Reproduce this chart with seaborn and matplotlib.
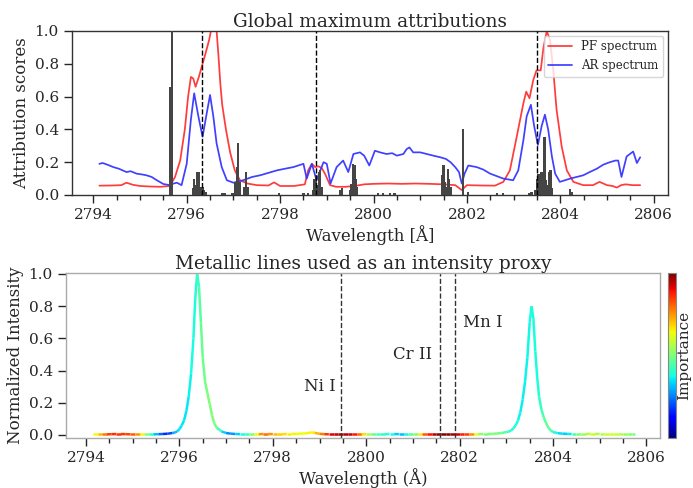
import numpy as np
import pandas as pd
import matplotlib
matplotlib.use("Agg")
import matplotlib.pyplot as plt
import seaborn as sns
from matplotlib.collections import LineCollection
from matplotlib.ticker import MultipleLocator

# ---------------- data ----------------
pf_wl = [2794.13, 2794.4, 2794.6, 2794.71, 2794.85, 2795.0, 2795.2, 2795.43, 2795.64, 2795.75,
         2795.86, 2795.96, 2796.03, 2796.09, 2796.14, 2796.19, 2796.26, 2796.32, 2796.4, 2796.48,
         2796.56, 2796.62, 2796.68, 2796.72, 2796.76, 2796.84, 2796.93, 2797.03, 2797.14, 2797.3,
         2797.5, 2797.75, 2797.87, 2798.0, 2798.3, 2798.53, 2798.6, 2798.68, 2798.75, 2798.82,
         2798.89, 2798.96, 2799.07, 2799.2, 2799.4, 2799.6, 2799.8, 2800.0, 2800.3, 2800.6,
         2800.9, 2801.2, 2801.5, 2801.75, 2801.89, 2802.0, 2802.3, 2802.6, 2802.78, 2802.92,
         2803.07, 2803.21, 2803.27, 2803.34, 2803.42, 2803.49, 2803.58, 2803.64, 2803.71, 2803.78,
         2803.85, 2803.92, 2804.03, 2804.14, 2804.28, 2804.49, 2804.7, 2804.84, 2805.0, 2805.12,
         2805.21, 2805.3, 2805.4, 2805.55, 2805.71]
pf_val = [0.057, 0.058, 0.06, 0.075, 0.062, 0.055, 0.052, 0.05, 0.055, 0.11,
          0.21, 0.40, 0.60, 0.72, 0.71, 0.66, 0.72, 0.78, 0.86, 0.945,
          1.06, 1.08, 0.85, 0.68, 0.55, 0.40, 0.26, 0.15, 0.09, 0.07,
          0.06, 0.058, 0.077, 0.055, 0.055, 0.065, 0.15, 0.19, 0.17, 0.175,
          0.165, 0.13, 0.06, 0.05, 0.05, 0.055, 0.065, 0.068, 0.07, 0.068,
          0.07, 0.068, 0.065, 0.06, 0.03, 0.06, 0.058, 0.057, 0.08, 0.15,
          0.36, 0.56, 0.63, 0.59, 0.70, 0.76, 0.76, 0.90, 1.0, 0.945,
          0.76, 0.52, 0.295, 0.15, 0.08, 0.06, 0.06, 0.08, 0.06, 0.055,
          0.045, 0.06, 0.065, 0.06, 0.06]

ar_wl = [2794.13, 2794.2, 2794.3, 2794.43, 2794.55, 2794.71, 2794.8, 2794.93, 2795.05, 2795.14,
         2795.25, 2795.36, 2795.5, 2795.64, 2795.72, 2795.79, 2795.89, 2796.0, 2796.09, 2796.16,
         2796.25, 2796.34, 2796.43, 2796.5, 2796.57, 2796.64, 2796.75, 2796.86, 2797.0, 2797.21,
         2797.4, 2797.57, 2797.75, 2797.93, 2798.1, 2798.28, 2798.5, 2798.57, 2798.68, 2798.78,
         2798.93, 2799.0, 2799.08, 2799.21, 2799.35, 2799.46, 2799.57, 2799.71, 2799.8, 2799.91,
         2800.03, 2800.14, 2800.28, 2800.4, 2800.5, 2800.64, 2800.71, 2800.77, 2800.85, 2801.0,
         2801.14, 2801.28, 2801.43, 2801.55, 2801.65, 2801.75, 2801.83, 2801.89, 2801.95, 2802.03,
         2802.21, 2802.35, 2802.5, 2802.64, 2802.78, 2802.99, 2803.1, 2803.21, 2803.28, 2803.37,
         2803.44, 2803.52, 2803.6, 2803.67, 2803.74, 2803.82, 2803.89, 2803.99, 2804.1, 2804.21,
         2804.35, 2804.49, 2804.63, 2804.78, 2804.92, 2805.06, 2805.18, 2805.24, 2805.31, 2805.42,
         2805.56, 2805.64, 2805.71]
ar_val = [0.19, 0.195, 0.185, 0.17, 0.16, 0.14, 0.145, 0.13, 0.125, 0.12,
          0.11, 0.09, 0.067, 0.06, 0.07, 0.075, 0.06, 0.19, 0.46, 0.62,
          0.48, 0.355, 0.50, 0.61, 0.48, 0.315, 0.17, 0.09, 0.075, 0.09,
          0.11, 0.12, 0.135, 0.15, 0.16, 0.17, 0.19, 0.10, 0.19, 0.09,
          0.20, 0.19, 0.07, 0.17, 0.21, 0.14, 0.25, 0.26, 0.24, 0.18,
          0.27, 0.26, 0.25, 0.255, 0.24, 0.25, 0.28, 0.29, 0.26, 0.26,
          0.25, 0.24, 0.23, 0.22, 0.20, 0.17, 0.14, 0.07, 0.13, 0.18,
          0.17, 0.155, 0.13, 0.115, 0.10, 0.09, 0.15, 0.335, 0.48, 0.55,
          0.42, 0.305, 0.42, 0.49, 0.40, 0.235, 0.13, 0.08, 0.09, 0.10,
          0.11, 0.12, 0.14, 0.16, 0.185, 0.20, 0.21, 0.21, 0.11, 0.235,
          0.265, 0.195, 0.23]

attr_wl = [2796.75, 2796.81, 2796.98, 2797.98, 2798.5, 2798.6, 2799.28, 2799.32,
           2800.1, 2800.2, 2800.35, 2800.45, 2802.64, 2802.78, 2803.34, 2803.38, 2804.21, 2804.25,
           2795.64, 2795.69,
           2796.13, 2796.16, 2796.19, 2796.22, 2796.25, 2796.28, 2796.31, 2796.34, 2796.37, 2796.40,
           2797.04, 2797.07, 2797.10, 2797.13, 2797.24, 2797.27, 2797.30,
           2798.71, 2798.74, 2798.77, 2798.80, 2798.83, 2798.86, 2798.89,
           2799.50, 2799.53, 2799.56, 2799.59, 2799.62, 2799.65,
           2801.47, 2801.50, 2801.53, 2801.56, 2801.59, 2801.62, 2801.65, 2801.91, 2802.03,
           2803.47, 2803.50, 2803.53, 2803.56, 2803.60, 2803.63, 2803.66, 2803.69, 2803.72,
           2803.76, 2803.79, 2803.82]
attr_val = [0.01, 0.01, 0.01, 0.01, 0.01, 0.01, 0.03, 0.04,
            0.01, 0.01, 0.01, 0.01, 0.01, 0.01, 0.01, 0.02, 0.035, 0.02,
            0.66, 1.0,
            0.04, 0.10, 0.06, 0.14, 0.14, 0.05, 0.05, 0.05, 0.03, 0.02,
            0.08, 0.17, 0.32, 0.08, 0.05, 0.14, 0.05,
            0.03, 0.10, 0.12, 0.06, 0.14, 0.15, 0.05,
            0.03, 0.07, 0.19, 0.18, 0.10, 0.05,
            0.12, 0.18, 0.08, 0.05, 0.16, 0.10, 0.05, 0.40, 0.02,
            0.03, 0.10, 0.13, 0.09, 0.14, 0.10, 0.355, 0.09, 0.06,
            0.14, 0.15, 0.04]

attr_lines = [2796.33, 2798.77, 2803.51]

int_wl = [2794.15, 2794.25, 2794.35, 2794.45, 2794.55, 2794.65, 2794.75, 2794.85, 2794.95, 2795.05,
          2795.15, 2795.25, 2795.35, 2795.45, 2795.55, 2795.65, 2795.75, 2795.85,
          2795.9, 2795.95, 2796.0, 2796.05, 2796.1, 2796.15, 2796.2, 2796.25, 2796.3, 2796.34,
          2796.38, 2796.42, 2796.46, 2796.5, 2796.55, 2796.6, 2796.65, 2796.7, 2796.75, 2796.8,
          2796.9, 2797.0, 2797.1, 2797.2, 2797.3, 2797.4, 2797.5, 2797.6, 2797.7, 2797.8,
          2797.9, 2798.0, 2798.1, 2798.2, 2798.3, 2798.4, 2798.5, 2798.6, 2798.7, 2798.8,
          2798.85, 2798.9, 2799.0, 2799.1, 2799.2, 2799.3, 2799.4, 2799.5, 2799.6, 2799.7,
          2799.8, 2799.9, 2800.0,
          2800.1, 2800.2, 2800.3, 2800.4, 2800.5, 2800.6, 2800.7, 2800.8, 2800.9, 2801.0,
          2801.1, 2801.2, 2801.3, 2801.4, 2801.5, 2801.6, 2801.7, 2801.8, 2801.9, 2802.0,
          2802.1, 2802.2, 2802.3, 2802.4, 2802.5, 2802.6, 2802.7, 2802.8, 2802.9, 2803.0,
          2803.05, 2803.1, 2803.15, 2803.2, 2803.25, 2803.3, 2803.35, 2803.4, 2803.45, 2803.5,
          2803.54, 2803.58, 2803.62, 2803.66, 2803.7, 2803.75, 2803.8, 2803.85, 2803.9, 2803.95,
          2804.0,
          2804.1, 2804.2, 2804.3, 2804.4, 2804.5, 2804.6, 2804.7, 2804.8, 2804.9, 2805.0,
          2805.1, 2805.2, 2805.3, 2805.4, 2805.5, 2805.6, 2805.7, 2805.75]
int_val = [0.004, 0.004, 0.004, 0.004, 0.005, 0.006, 0.006, 0.005, 0.004, 0.004,
           0.004, 0.004, 0.004, 0.004, 0.005, 0.006, 0.008, 0.012,
           0.015, 0.022, 0.035, 0.06, 0.09, 0.15, 0.24, 0.38, 0.60, 0.85,
           1.0, 0.92, 0.70, 0.48, 0.33, 0.26, 0.19, 0.12, 0.07, 0.045,
           0.022, 0.012, 0.008, 0.006, 0.005, 0.005, 0.005, 0.005, 0.005, 0.006,
           0.006, 0.005, 0.005, 0.005, 0.006, 0.006, 0.007, 0.008, 0.010, 0.014,
           0.016, 0.013, 0.007, 0.005, 0.004, 0.004, 0.004, 0.004, 0.004, 0.004,
           0.004, 0.004, 0.005,
           0.005, 0.005, 0.005, 0.005, 0.006, 0.006, 0.005, 0.005, 0.005, 0.005,
           0.005, 0.005, 0.005, 0.005, 0.005, 0.005, 0.005, 0.005, 0.005, 0.005,
           0.005, 0.005, 0.005, 0.005, 0.006, 0.006, 0.007, 0.009, 0.012, 0.018,
           0.02, 0.028, 0.04, 0.06, 0.09, 0.14, 0.22, 0.33, 0.48, 0.70,
           0.80, 0.72, 0.52, 0.36, 0.24, 0.16, 0.11, 0.075, 0.045, 0.028,
           0.018,
           0.011, 0.008, 0.007, 0.006, 0.006, 0.006, 0.006, 0.007, 0.007, 0.006,
           0.006, 0.006, 0.006, 0.006, 0.006, 0.006, 0.006, 0.006]
imp_val = [0.6, 0.68, 0.75, 0.82, 0.86, 0.86, 0.85, 0.85, 0.82, 0.8,
           0.7, 0.58, 0.45, 0.35, 0.28, 0.18, 0.15, 0.25,
           0.3, 0.33, 0.35, 0.35, 0.35, 0.35, 0.36, 0.37, 0.38, 0.38,
           0.4, 0.44, 0.47, 0.48, 0.49, 0.5, 0.5, 0.5, 0.5, 0.48,
           0.38, 0.28, 0.25, 0.3, 0.36, 0.4, 0.45, 0.55, 0.7, 0.8,
           0.78, 0.72, 0.7, 0.68, 0.67, 0.65, 0.64, 0.64, 0.64, 0.65,
           0.65, 0.68, 0.75, 0.8, 0.9, 0.93, 0.95, 0.96, 0.95, 0.92,
           0.85, 0.75, 0.6,
           0.5, 0.45, 0.42, 0.4, 0.4, 0.35, 0.3, 0.32, 0.42, 0.48,
           0.55, 0.78, 0.85, 0.93, 0.97, 1.0, 1.0, 0.98, 0.95, 0.9,
           0.87, 0.82, 0.7, 0.55, 0.5, 0.5, 0.5, 0.5, 0.48, 0.45,
           0.4, 0.4, 0.38, 0.38, 0.37, 0.36, 0.36, 0.36, 0.37, 0.37,
           0.38, 0.38, 0.38, 0.38, 0.4, 0.42, 0.45, 0.47, 0.47, 0.45,
           0.4,
           0.35, 0.33, 0.32, 0.4, 0.48, 0.52, 0.55, 0.6, 0.58, 0.55,
           0.58, 0.6, 0.6, 0.58, 0.55, 0.52, 0.5, 0.5]

metal_wl = [2799.47, 2801.57, 2801.91]
metal_names = ["Ni I", "Cr II", "Mn I"]

# ---------------- style ----------------
sns.set_style("ticks")
plt.rcParams['font.family'] = ['DejaVu Serif']
plt.rcParams['mathtext.fontset'] = 'dejavuserif'

fig = plt.figure(figsize=(6.93, 4.88), dpi=100)
W, H = 693.0, 488.0
ax1 = fig.add_axes([72 / W, 1 - 195 / H, 596 / W, 164 / H])
ax2 = fig.add_axes([66 / W, 1 - 437.7 / H, 594 / W, 164.4 / H])
cax = fig.add_axes([667.5 / W, 1 - 437.7 / H, 8 / W, 164.4 / H])

# ---------------- top panel ----------------
df_pf = pd.DataFrame({"wl": pf_wl, "val": pf_val})
df_ar = pd.DataFrame({"wl": ar_wl, "val": ar_val})
sns.lineplot(data=df_pf, x="wl", y="val", ax=ax1, color="#ff3030", lw=1.25,
             estimator=None, sort=False, label="PF spectrum", alpha=0.95)
sns.lineplot(data=df_ar, x="wl", y="val", ax=ax1, color="#3535ff", lw=1.25,
             estimator=None, sort=False, label="AR spectrum", alpha=0.95)
ax1.bar(attr_wl, attr_val, width=0.05, color="#454545", edgecolor="none", zorder=3)
for xv in attr_lines:
    ax1.axvline(xv, color="black", ls="--", lw=1.0, zorder=4)

ax1.set_xlim(2793.544, 2806.306)
ax1.set_ylim(0, 1.0)
ax1.xaxis.set_major_locator(MultipleLocator(2))
ax1.xaxis.set_minor_locator(MultipleLocator(0.5))
ax1.yaxis.set_major_locator(MultipleLocator(0.2))
ax1.tick_params(axis="both", which="major", labelsize=11, length=6, width=1, direction="out")
ax1.tick_params(axis="x", which="minor", length=3.5, width=1, direction="out")
ax1.set_xlabel("Wavelength [Å]", fontsize=12, labelpad=2)
ax1.set_ylabel("Attribution scores", fontsize=12, labelpad=3)
ax1.set_title("Global maximum attributions", fontsize=13.3, pad=3)
for s in ax1.spines.values():
    s.set_color("#333333")
    s.set_linewidth(1.0)
leg = ax1.legend(loc="upper right", fontsize=8.5, frameon=True, fancybox=True,
                 borderaxespad=0.4, handlelength=2.0)
leg.get_frame().set_edgecolor("#cccccc")

# ---------------- bottom panel ----------------
xs = np.asarray(int_wl)
ys = np.asarray(int_val)
cs = np.asarray(imp_val)
pts = np.column_stack([xs, ys]).reshape(-1, 1, 2)
segs = np.concatenate([pts[:-1], pts[1:]], axis=1)
norm = plt.Normalize(0, 1)
lc = LineCollection(segs, cmap="jet", norm=norm, linewidth=1.8)
lc.set_array((cs[:-1] + cs[1:]) / 2)
ax2.add_collection(lc)

for xv in metal_wl:
    ax2.axvline(xv, color="#333333", ls="--", lw=1.0)
ax2.text(metal_wl[0] - 0.12, 0.30, metal_names[0], ha="right", va="center", fontsize=12)
ax2.text(metal_wl[1] - 0.16, 0.50, metal_names[1], ha="right", va="center", fontsize=12)
ax2.text(metal_wl[2] + 0.16, 0.70, metal_names[2], ha="left", va="center", fontsize=12)

ax2.set_xlim(2793.572, 2806.29)
ax2.set_ylim(-0.017, 1.004)
ax2.xaxis.set_major_locator(MultipleLocator(2))
ax2.xaxis.set_minor_locator(MultipleLocator(0.5))
ax2.yaxis.set_major_locator(MultipleLocator(0.2))
ax2.tick_params(axis="both", which="major", labelsize=11, length=6, width=1, direction="out")
ax2.tick_params(axis="x", which="minor", length=3.5, width=1, direction="out")
ax2.set_xlabel("Wavelength (Å)", fontsize=12, labelpad=2)
ax2.set_ylabel("Normalized Intensity", fontsize=12, labelpad=3)
ax2.set_title("Metallic lines used as an intensity proxy", fontsize=13.3, pad=3)
for s in ax2.spines.values():
    s.set_color("#aaaaaa")
    s.set_linewidth(1.0)

sm = plt.cm.ScalarMappable(cmap="jet", norm=norm)
cb = fig.colorbar(sm, cax=cax)
cb.set_ticks([])
cb.outline.set_edgecolor("#888888")
cb.set_label("Importance", fontsize=11, labelpad=1)

fig.savefig("out.png", dpi=100)
